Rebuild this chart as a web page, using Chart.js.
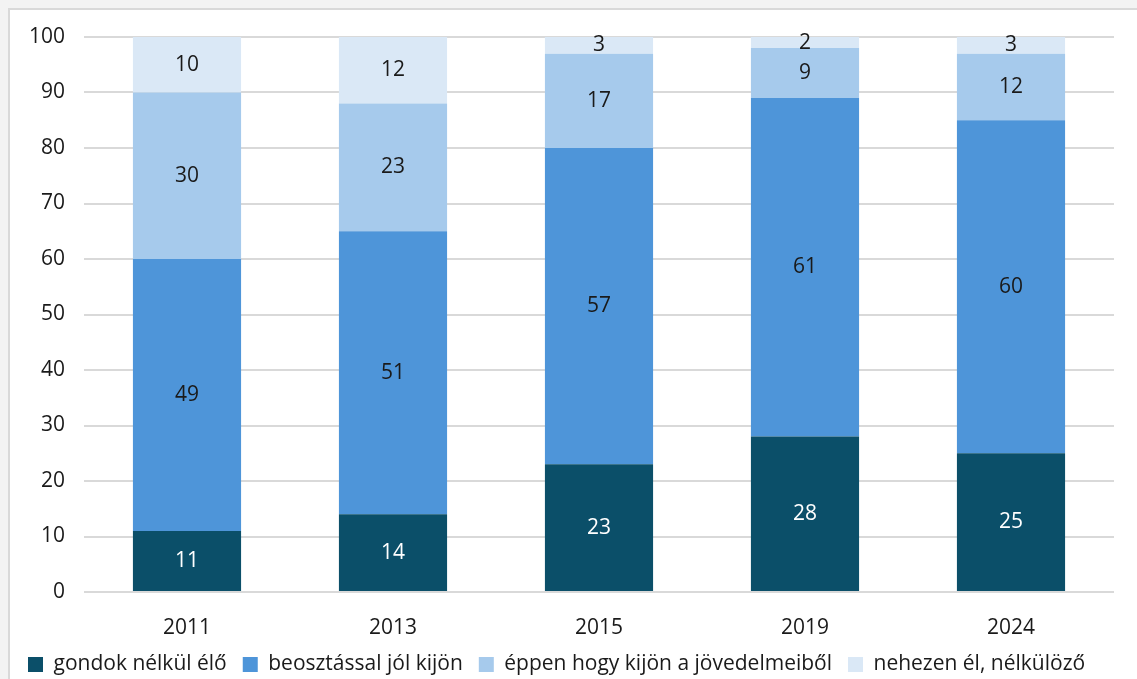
<!DOCTYPE html>
<html>
<head>
<meta charset="utf-8">
<script src="https://cdn.jsdelivr.net/npm/chart.js@4"></script>
<style>
  body { margin: 0; background: #f3f3f3; }
  #frame { position: absolute; left: 8px; top: 8px; width: 1140px; height: 690px; background: #fff; border: 2px solid #d9d9d9; }
  #wrap { position: absolute; left: 0; top: 0; width: 1137px; height: 679px; }
</style>
</head>
<body>
<div id="frame"></div>
<div id="wrap"><canvas id="myChart" width="1137" height="679"></canvas></div>
<script>
const years = ['2011', '2013', '2015', '2019', '2024'];
const gondokNelkul = [11, 14, 23, 28, 25];
const beosztassal = [49, 51, 57, 61, 60];
const eppenHogy = [30, 23, 17, 9, 12];
const nehezen = [10, 12, 3, 2, 3];
const yTicks = [0, 10, 20, 30, 40, 50, 60, 70, 80, 90, 100];

const fontFamily = "'Open Sans', 'Liberation Sans', sans-serif";

// labels in the middle of each segment
const segmentLabels = {
    id: 'segmentLabels',
    afterDatasetsDraw(chart) {
        const ctx = chart.ctx;
        ctx.save();
        ctx.font = '21px ' + fontFamily;
        ctx.textAlign = 'center';
        ctx.textBaseline = 'middle';
        chart.data.datasets.forEach((ds, i) => {
            const meta = chart.getDatasetMeta(i);
            meta.data.forEach((bar, j) => {
                const mid = (bar.y + bar.base) / 2;
                ctx.fillStyle = i === 0 ? '#ffffff' : '#1a1a1a';
                ctx.fillText(ds.data[j], bar.x, mid);
            });
        });
        ctx.restore();
    }
};

new Chart(document.getElementById('myChart'), {
    type: 'bar',
    data: {
        labels: years,
        datasets: [
            { label: 'gondok nélkül élő', data: gondokNelkul, backgroundColor: '#0b4f69' },
            { label: 'beosztással jól kijön', data: beosztassal, backgroundColor: '#4e95d9' },
            { label: 'éppen hogy kijön a jövedelmeiből', data: eppenHogy, backgroundColor: '#a6caec' },
            { label: 'nehezen él, nélkülöző', data: nehezen, backgroundColor: '#dae8f6' }
        ]
    },
    options: {
        responsive: false,
        animation: false,
        layout: { padding: { top: 37, right: 0, left: 12, bottom: -6 } },
        datasets: { bar: { barPercentage: 0.525, categoryPercentage: 1 } },
        scales: {
            x: {
                stacked: true,
                grid: { display: false },
                border: { display: false },
                ticks: { color: '#1a1a1a', font: { family: fontFamily, size: 21 }, padding: 15 },
                afterFit: s => { s.height = 46; }
            },
            y: {
                stacked: true,
                min: 0,
                max: 100,
                afterBuildTicks: s => { s.ticks = yTicks.map(v => ({ value: v })); },
                grid: { color: '#d9d9d9', lineWidth: 2, drawTicks: false },
                border: { display: false },
                ticks: { color: '#1a1a1a', font: { family: fontFamily, size: 21 }, padding: 19 },
                afterFit: s => { s.width = 72; }
            },
            // empty axis that only keeps a right margin
            yRight: {
                position: 'right',
                grid: { display: false },
                border: { display: false },
                ticks: { display: false },
                afterFit: s => { s.width = 23; }
            }
        },
        plugins: {
            legend: {
                position: 'bottom',
                align: 'start',
                labels: {
                    color: '#1a1a1a',
                    font: { family: fontFamily, size: 21 },
                    boxWidth: 15,
                    boxHeight: 15,
                    padding: 16
                }
            },
            tooltip: { enabled: false }
        }
    },
    plugins: [segmentLabels]
});
</script>
</body>
</html>
